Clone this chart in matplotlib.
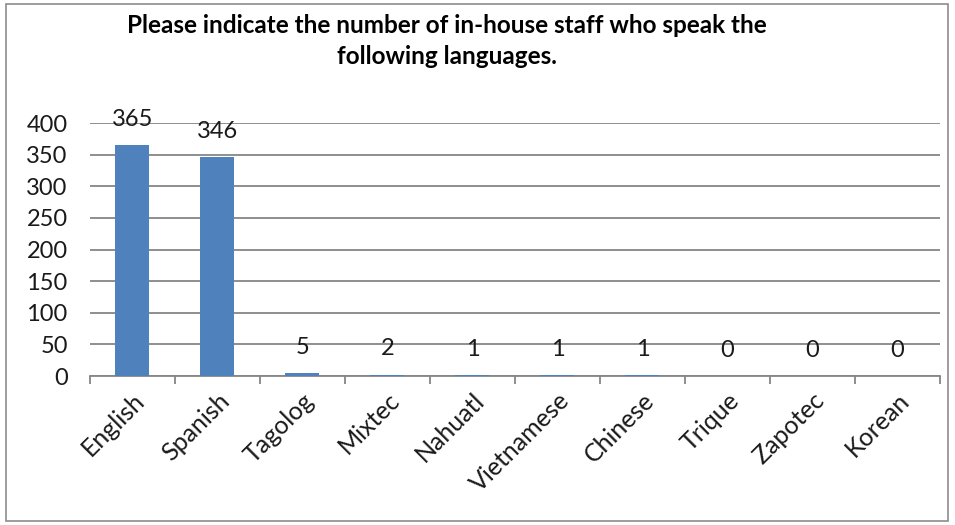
import matplotlib
matplotlib.use("Agg")
import matplotlib.pyplot as plt
import numpy as np

languages = ["English", "Spanish", "Tagolog", "Mixtec", "Nahuatl",
             "Vietnamese", "Chinese", "Trique", "Zapotec", "Korean"]
staff = [365, 346, 5, 2, 1, 1, 1, 0, 0, 0]
yticks = [0, 50, 100, 150, 200, 250, 300, 350, 400]

plt.rcParams['font.family'] = ['Lato', 'DejaVu Sans']

fig = plt.figure(figsize=(9.55, 5.25), dpi=100)
ax = fig.add_axes([0.0942, 0.2838, 0.890, 0.4819])

# outer chart border
fig.patches.append(plt.Rectangle((0.006, 0.008), 0.987, 0.984, transform=fig.transFigure,
                                 fill=False, edgecolor='#8c8c8c', linewidth=1.2))

x = np.arange(len(languages))
ax.bar(x, staff, width=0.4, color='#4F81BD', zorder=3)

for xi, v in zip(x, staff):
    ax.annotate(str(v), (xi, v), xytext=(0, 11), textcoords='offset points',
                ha='center', va='bottom', fontsize=17, color='#1a1a1a')

ax.set_xlim(-0.5, len(languages) - 0.5)
ax.set_ylim(0, 400)
ax.set_yticks(yticks)
ax.yaxis.grid(True, color='#868686', linewidth=1.3, zorder=0)
ax.tick_params(axis='y', length=0, labelsize=17, labelcolor='#1a1a1a', pad=16)

ax.set_xticks(x)
ax.set_xticklabels(languages, rotation=45, ha='right', rotation_mode='anchor',
                   fontsize=18, color='#1a1a1a')
ax.set_xticks(np.arange(len(languages) + 1) - 0.5, minor=True)
ax.tick_params(axis='x', which='major', length=0, pad=9)
ax.tick_params(axis='x', which='minor', length=6, color='#868686', width=1.3)

for s in ['top', 'right', 'left']:
    ax.spines[s].set_visible(False)
ax.spines['bottom'].set_color('#868686')
ax.spines['bottom'].set_linewidth(1.3)

fig.text(0.468, 0.921, "Please indicate the number of in-house staff who speak the\nfollowing languages.",
         ha='center', va='center', fontsize=17.5, fontweight='bold', linespacing=1.42)

fig.savefig("out.png", dpi=100)
